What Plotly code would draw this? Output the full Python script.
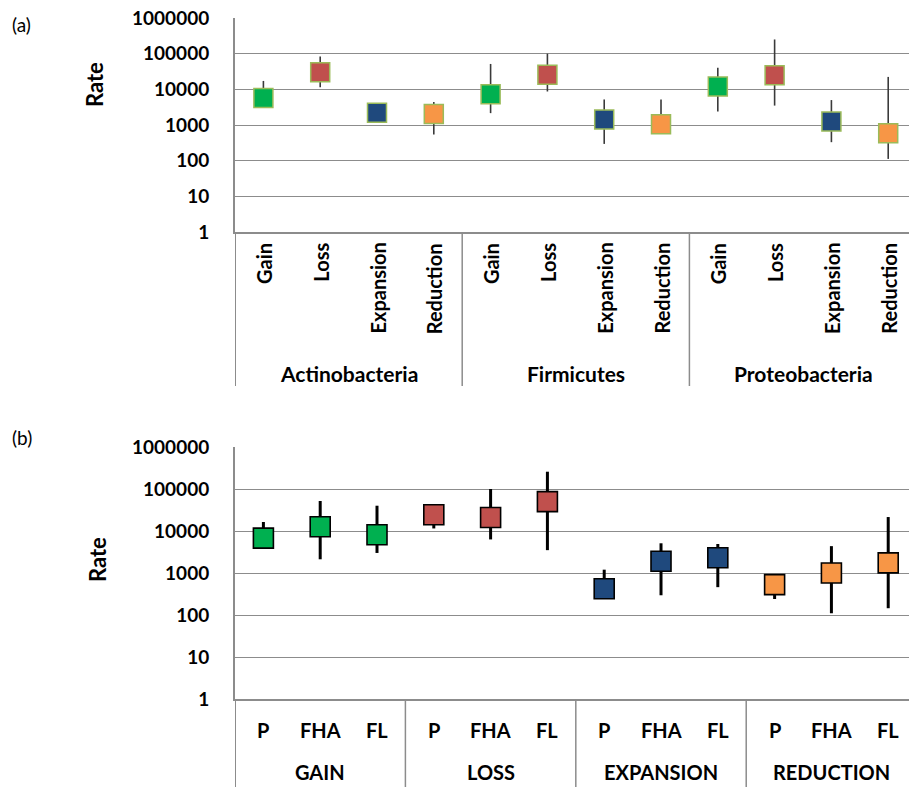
import plotly.graph_objects as go

# ---------- data ----------
a_groups = ["Actinobacteria", "Firmicutes", "Proteobacteria"]
a_cats = ["Gain", "Loss", "Expansion", "Reduction"] * 3
a_val = [5750, 30000, 2200, 2050, 7250, 25700, 1420, 1050, 12000, 25000, 1250, 590]
a_high = [17200, 83000, 2800, 4450, 51500, 100000, 5200, 5200, 40000, 250000, 5000, 22300]
a_low = [4200, 11500, 1600, 540, 2150, 8700, 295, 800, 2400, 3500, 330, 112]

b_groups = ["GAIN", "LOSS", "EXPANSION", "REDUCTION"]
b_cats = ["P", "FHA", "FL"] * 4
b_val = [6770, 12600, 8150, 24400, 21000, 50000, 420, 1900, 2300, 530, 1000, 1740]
b_high = [16400, 51800, 40000, 40000, 100000, 258000, 1200, 5100, 4900, 700, 4360, 21500]
b_low = [5000, 2120, 3000, 11500, 6300, 3500, 300, 295, 460, 240, 110, 145]

y_ticks = [1, 10, 100, 1000, 10000, 100000, 1000000]
y_ticktext = ["1", "10", "100", "1000", "10000", "100000", "1000000"]

colors = {"Gain": "#00B050", "Loss": "#C0504D", "Expansion": "#1F497D", "Reduction": "#F79646"}
a_colors = [colors[c] for c in a_cats]
b_colors = [colors[g.capitalize()] for g in b_groups for _ in range(3)]

W, H = 909, 787
FONT = "Lato"
GRID = "#8c8c8c"

def py(px):
    return 1 - px / H

x_idx = list(range(12))

fig = go.Figure()
fig.add_trace(go.Scatter(
    x=x_idx, y=a_val, mode="markers", xaxis="x", yaxis="y",
    marker=dict(symbol="square", size=19, color=a_colors, line=dict(color="#9BBB59", width=1.5)),
    error_y=dict(type="data", symmetric=False,
                 array=[h - v for h, v in zip(a_high, a_val)],
                 arrayminus=[v - l for v, l in zip(a_val, a_low)],
                 color="#3a3a3a", thickness=1.6, width=0),
    showlegend=False, hoverinfo="skip"))
fig.add_trace(go.Scatter(
    x=x_idx, y=b_val, mode="markers", xaxis="x2", yaxis="y2",
    marker=dict(symbol="square", size=20, color=b_colors, line=dict(color="#000000", width=1.6)),
    error_y=dict(type="data", symmetric=False,
                 array=[h - v for h, v in zip(b_high, b_val)],
                 arrayminus=[v - l for v, l in zip(b_val, b_low)],
                 color="#000000", thickness=3, width=0),
    showlegend=False, hoverinfo="skip"))

x_left = 235 / W
xr = [-0.5, 11.366]

yax = dict(type="log", range=[0, 6], tickvals=y_ticks, ticktext=y_ticktext,
           showgrid=True, gridcolor=GRID, gridwidth=1.3, automargin=False,
           showline=True, linecolor=GRID, linewidth=2, ticks="",
           ticklabelstandoff=20, zeroline=False,
           tickfont=dict(family=FONT, size=19, color="#000", weight="bold"))
xax = dict(range=xr, showgrid=False, showticklabels=False, ticks="", zeroline=False,
           automargin=False,
           showline=True, linecolor=GRID, linewidth=2, domain=[x_left, 1])

fig.update_layout(
    width=W, height=H, margin=dict(l=0, r=0, t=0, b=0, autoexpand=False),
    paper_bgcolor="white", plot_bgcolor="white",
    xaxis=dict(xax, anchor="y"),
    yaxis=dict(yax, domain=[py(232), py(18)], anchor="x"),
    xaxis2=dict(xax, anchor="y2"),
    yaxis2=dict(yax, domain=[py(699), py(447)], anchor="x2"),
)

ann = []
shapes = []
# panel labels and axis titles
ann.append(dict(text="(a)", x=10 / W, y=py(25), xref="paper", yref="paper", xanchor="left",
                yanchor="middle", showarrow=False, font=dict(family=FONT, size=19, color="#000")))
ann.append(dict(text="(b)", x=10 / W, y=py(437), xref="paper", yref="paper", xanchor="left",
                yanchor="middle", showarrow=False, font=dict(family=FONT, size=19, color="#000")))
ann.append(dict(text="Rate", x=95 / W, y=py(85), xref="paper", yref="paper", textangle=-90,
                xanchor="center", yanchor="middle",
                showarrow=False, font=dict(family=FONT, size=22, color="#000", weight="bold")))
ann.append(dict(text="Rate", x=97 / W, y=py(560), xref="paper", yref="paper", textangle=-90,
                xanchor="center", yanchor="middle",
                showarrow=False, font=dict(family=FONT, size=22, color="#000", weight="bold")))

# panel (a) category labels
for i, c in enumerate(a_cats):
    ann.append(dict(text=c, x=i, y=py(241), xref="x", yref="paper", textangle=-90,
                    xanchor="center", yanchor="top", showarrow=False,
                    font=dict(family=FONT, size=20, color="#000", weight="bold")))
for g, name in enumerate(a_groups):
    ann.append(dict(text=name, x=g * 4 + 1.5, y=py(373), xref="x", yref="paper",
                    xanchor="center", yanchor="middle", showarrow=False,
                    font=dict(family=FONT, size=21, color="#000", weight="bold")))
for xb in [-0.5, 3.5, 7.5]:
    shapes.append(dict(type="line", xref="x", yref="paper", x0=xb, x1=xb,
                       y0=py(232), y1=py(386), line=dict(color=GRID, width=1.5 if xb > 0 else 2)))

# panel (b) category labels
for i, c in enumerate(b_cats):
    ann.append(dict(text=c, x=i, y=py(730), xref="x2", yref="paper",
                    xanchor="center", yanchor="middle", showarrow=False,
                    font=dict(family=FONT, size=20, color="#000", weight="bold")))
for g, name in enumerate(b_groups):
    ann.append(dict(text=name, x=g * 3 + 1, y=py(772), xref="x2", yref="paper",
                    xanchor="center", yanchor="middle", showarrow=False,
                    font=dict(family=FONT, size=20, color="#000", weight="bold")))
for xb in [-0.5, 2.5, 5.5, 8.5]:
    shapes.append(dict(type="line", xref="x2", yref="paper", x0=xb, x1=xb,
                       y0=py(699), y1=0, line=dict(color=GRID, width=1.5 if xb > 0 else 2)))

fig.update_layout(annotations=ann, shapes=shapes)
fig.write_html("out.html")
